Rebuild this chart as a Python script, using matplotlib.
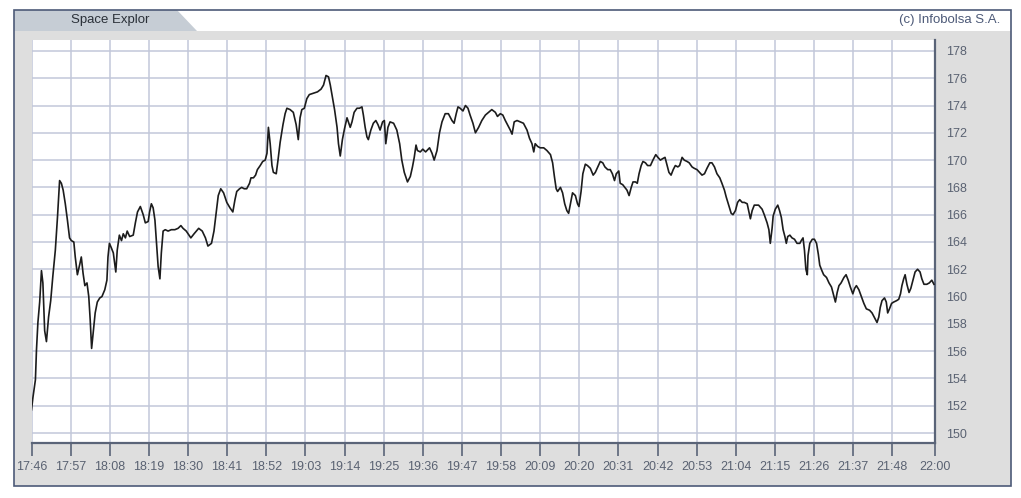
import matplotlib
matplotlib.use("Agg")
import matplotlib.pyplot as plt
from matplotlib.patches import Rectangle, Polygon

# Intraday quote, time in minutes after 17:46
minutes = [
    0.0, 0.4, 1.1, 1.4, 1.8, 2.3, 2.8, 3.2, 3.7, 4.2, 4.8, 5.4, 6.0, 6.7, 7.3, 7.9,
    8.4, 8.9, 9.5, 10.1, 10.7, 11.2, 11.9, 12.3, 12.9, 13.6, 14.0, 14.5, 15.0, 15.6,
    16.1, 16.5, 16.9, 17.4, 17.9, 18.5, 19.2, 19.8, 20.6, 21.2, 21.5, 21.9, 22.4, 23.0,
    23.7, 24.1, 24.7, 25.3, 25.8, 26.4, 26.9, 27.6, 28.6, 29.2, 29.8, 30.6, 31.4, 32.0,
    32.8, 33.2, 33.7, 34.2, 34.7, 35.1, 35.6, 36.1, 36.5, 37.0, 37.6, 38.4, 39.3, 40.3,
    41.2, 42.0, 42.6, 43.5, 44.8, 45.7, 47.0, 48.0, 48.9, 49.6, 50.6, 51.3, 52.0, 52.5,
    53.2, 54.0, 54.9, 55.8, 56.6, 57.2, 57.7, 58.5, 59.1, 59.8, 60.5, 61.3, 61.7, 62.4,
    63.0, 63.5, 64.3, 65.0, 65.7, 66.2, 66.6, 67.1, 67.6, 68.0, 68.8, 69.3, 69.9, 70.7,
    71.3, 71.8, 72.7, 73.6, 74.4, 75.0, 75.5, 76.0, 76.7, 77.4, 78.1, 79.3, 80.4, 81.4,
    82.1, 82.8, 83.5, 84.0, 84.6, 85.2, 85.9, 86.3, 86.8, 87.4, 88.0, 88.7, 89.2, 89.6,
    90.1, 90.7, 91.5, 92.2, 92.9, 93.3, 93.8, 94.3, 94.7, 95.4, 96.1, 96.8, 97.4, 98.0,
    98.7, 99.2, 99.6, 100.2, 100.8, 101.8, 102.7, 103.5, 104.1, 104.8, 105.7, 106.5,
    107.1, 107.6, 108.1, 108.5, 109.3, 110.0, 110.8, 111.9, 112.6, 113.2, 114.0, 114.7,
    115.4, 116.3, 117.2, 118.2, 118.8, 119.4, 119.9, 120.5, 121.3, 122.0, 122.7, 123.3,
    124.1, 124.8, 125.7, 126.6, 127.6, 128.5, 129.4, 130.4, 131.0, 131.8, 132.5, 133.2,
    133.8, 134.6, 135.1, 135.7, 136.5, 137.4, 138.3, 139.3, 140.0, 140.7, 141.2, 141.6,
    142.3, 143.0, 144.0, 144.9, 145.9, 146.5, 147.0, 147.5, 147.9, 148.7, 149.3, 149.9,
    150.5, 151.0, 151.5, 152.1, 152.9, 153.5, 153.9, 154.5, 155.0, 155.7, 156.3, 157.1,
    157.9, 158.5, 159.2, 159.9, 160.6, 161.2, 162.0, 162.7, 163.3, 163.9, 164.4, 165.1,
    165.5, 166.2, 166.8, 167.4, 168.0, 168.6, 169.1, 169.8, 170.3, 170.8, 171.4, 171.9,
    172.6, 173.2, 174.0, 174.7, 175.5, 176.1, 176.8, 177.4, 178.1, 178.7, 179.2, 179.8,
    180.4, 181.0, 181.7, 182.2, 182.9, 183.5, 184.3, 184.9, 185.7, 186.3, 187.1, 187.8,
    188.5, 189.2, 189.9, 190.7, 191.3, 192.0, 192.7, 193.5, 194.1, 194.8, 195.3, 196.0,
    196.7, 197.2, 197.9, 198.5, 199.1, 199.8, 200.4, 201.2, 201.6, 202.1, 202.6, 203.2,
    204.0, 204.4, 205.4, 206.0, 206.8, 207.3, 207.7, 208.2, 208.5, 209.1, 209.8, 210.3,
    210.8, 211.3, 211.8, 212.2, 212.6, 213.2, 213.8, 214.5, 215.2, 216.0, 216.4, 216.9,
    217.3, 217.7, 218.1, 218.3, 218.8, 219.5, 220.1, 220.7, 221.2, 221.6, 222.2, 222.7,
    223.5, 224.2, 224.9, 225.4, 226.0, 226.5, 227.0, 227.6, 228.4, 229.0, 229.6, 230.2,
    230.9, 231.4, 231.9, 232.6, 233.3, 234.0, 234.7, 235.6, 236.3, 236.9, 237.7, 238.2,
    238.6, 239.1, 239.8, 240.3, 240.7, 241.2, 241.8, 242.4, 243.2, 243.8, 244.3, 244.7,
    245.2, 245.6, 246.1, 246.7, 247.2, 247.8, 248.4, 249.1, 249.8, 250.3, 250.9, 251.7,
    252.4, 253.1, 253.7,
]
prices = [
    151.7, 152.6, 153.9, 156.1, 158.1, 159.6, 161.9, 161.0, 157.5, 156.7, 158.5, 159.7,
    161.5, 163.4, 165.8, 168.5, 168.3, 167.8, 166.8, 165.6, 164.3, 164.1, 164.0, 162.9,
    161.6, 162.4, 162.9, 161.7, 160.8, 161.0, 160.0, 158.3, 156.2, 157.5, 158.8, 159.6,
    159.9, 160.0, 160.5, 161.2, 162.9, 163.9, 163.6, 163.2, 161.8, 163.4, 164.5, 164.1,
    164.6, 164.3, 164.8, 164.4, 164.5, 165.4, 166.2, 166.6, 166.0, 165.4, 165.5, 166.2,
    166.8, 166.5, 165.6, 164.1, 162.2, 161.3, 163.2, 164.8, 164.9, 164.8, 164.9, 164.9,
    165.0, 165.2, 165.0, 164.8, 164.3, 164.6, 165.0, 164.8, 164.3, 163.7, 163.9, 164.8,
    166.3, 167.4,
    167.9, 167.6, 166.9, 166.5, 166.2, 167.1, 167.7, 167.9, 168.0, 167.9, 167.9, 168.3,
    168.7, 168.7, 168.9, 169.3, 169.6, 169.9, 170.0, 170.5, 172.4, 171.2, 169.6, 169.1,
    169.0, 170.0, 171.3, 172.6, 173.4, 173.8, 173.7, 173.5, 172.6, 171.5, 173.1, 173.7,
    173.8, 174.5, 174.8, 174.9, 175.0, 175.2, 175.5, 176.2, 176.1, 175.5, 174.6, 173.7,
    172.4, 171.2, 170.3, 171.5, 172.3, 173.1, 172.7, 172.4, 172.8, 173.5, 173.8, 173.8,
    173.9, 173.3, 172.4, 171.7, 171.5, 172.2, 172.7, 172.9, 172.6, 172.2, 172.8, 172.9,
    171.2, 172.4, 172.8, 172.7, 172.2, 171.2,
    170.0, 169.1, 168.4, 168.8, 169.5, 170.2, 171.1, 170.7, 170.6, 170.8, 170.6, 170.9,
    170.5, 170.0, 170.7, 172.0, 172.8, 173.4, 173.4, 172.9, 172.7, 173.4, 173.9, 173.8,
    173.6, 174.0, 173.8, 173.3, 172.7, 172.0, 172.4, 172.9, 173.3, 173.5, 173.7, 173.5,
    173.2, 173.4, 173.3, 172.9, 172.6, 172.2, 171.9, 172.8, 172.9, 172.8, 172.7, 172.2,
    171.6, 171.2, 170.6, 171.2, 171.0, 170.9, 170.9, 170.7, 170.4, 169.8, 168.8, 167.9,
    167.7, 168.0, 167.6, 166.8, 166.3, 166.1, 166.8, 167.6, 167.4, 166.8, 166.6, 167.7,
    169.0, 169.7, 169.6, 169.4, 168.9, 169.1, 169.5, 169.9, 169.8, 169.5, 169.3, 169.3,
    169.0, 168.5, 169.0, 169.2, 168.3, 168.2, 168.0, 167.8, 167.4, 168.0, 168.4, 168.4,
    168.3, 169.0, 169.6, 169.9, 169.8, 169.6, 169.6, 170.0, 170.4, 170.2, 170.0, 170.1,
    170.2, 169.6, 169.1, 168.9, 169.3, 169.6, 169.5, 169.6, 170.2, 170.0, 169.9, 169.8,
    169.5, 169.4, 169.3, 169.1, 168.9, 169.0, 169.4, 169.8, 169.8, 169.5, 169.0, 168.7,
    168.3, 167.8, 167.3, 166.7, 166.1, 166.0, 166.3, 166.9, 167.1, 166.9, 166.9, 166.8,
    166.3, 165.7, 166.3, 166.7, 166.7,
    166.7, 166.4, 166.0, 165.4, 164.9, 163.9, 165.0, 165.9, 166.4, 166.7, 166.3, 165.8,
    164.9, 164.4, 163.9, 164.4, 164.5, 164.3, 164.2, 163.9, 163.9, 164.1, 164.3, 163.4,
    162.0, 161.6, 163.0, 163.9, 164.2, 164.2, 163.9, 163.1, 162.3, 161.9, 161.6, 161.4,
    161.0, 160.7, 160.2, 159.6, 160.3, 160.8, 161.0, 161.4, 161.6, 161.2, 160.7, 160.2,
    160.6, 160.8, 160.5, 160.0, 159.5, 159.1, 159.0, 158.8, 158.5, 158.1, 158.5, 159.2,
    159.7, 159.9, 159.6, 158.8, 159.1, 159.5, 159.6, 159.7, 159.8, 160.2, 160.8, 161.3,
    161.6, 160.9, 160.3, 160.6, 161.2, 161.8, 162.0, 161.8, 161.3, 160.9, 160.9, 161.0,
    161.2, 160.9,
]

tick_labels = ["17:46", "17:57", "18:08", "18:19", "18:30", "18:41", "18:52", "19:03",
               "19:14", "19:25", "19:36", "19:47", "19:58", "20:09", "20:20", "20:31",
               "20:42", "20:53", "21:04", "21:15", "21:26", "21:37", "21:48", "22:00"]
y_ticks = list(range(150, 179, 2))
title = "Space Explor"
credit = "(c) Infobolsa S.A."

W, H = 1021, 498
plt.rcParams['font.family'] = ['Liberation Sans', 'DejaVu Sans']

def to_min(s):
    h, m = s.split(":")
    return int(h) * 60 + int(m) - (17 * 60 + 46)

def fx(px):
    return px / W

def fy(py):
    return 1 - py / H

fig = plt.figure(figsize=(W / 100, H / 100), dpi=100)
fig.patch.set_facecolor("white")

# panel background, header strip and tab (kept behind the axes)
fig.add_artist(Rectangle((fx(14), fy(486)), fx(1011) - fx(14), fy(10) - fy(486),
                         transform=fig.transFigure, facecolor="#dedede", edgecolor="none", zorder=-10))
fig.add_artist(Rectangle((fx(14), fy(31)), fx(1011) - fx(14), fy(10) - fy(31),
                         transform=fig.transFigure, facecolor="white", edgecolor="none", zorder=-9))
fig.add_artist(Polygon([(fx(14), fy(10)), (fx(177), fy(10)), (fx(197), fy(31)), (fx(14), fy(31))],
                       closed=True, transform=fig.transFigure, facecolor="#c6cdd5",
                       edgecolor="none", zorder=-8))
fig.add_artist(Rectangle((fx(14), fy(486)), fx(1011) - fx(14), fy(10) - fy(486),
                         transform=fig.transFigure, facecolor="none", edgecolor="#4d5a78",
                         lw=1.2, zorder=10))
fig.text(fx(110), fy(20), title, ha="center", va="center", fontsize=9.5, color="#2a3038")
fig.text(fx(1000), fy(20), credit, ha="right", va="center", fontsize=9.5, color="#4d5a78")

ax = fig.add_axes([fx(31.5), fy(443), fx(935) - fx(31.5), fy(40) - fy(443)])
ax.set_zorder(2)
ax.set_facecolor("white")
ax.plot(minutes, prices, color="#1c1c1c", lw=1.2, zorder=3)

ax.set_xlim(0, 254)
ax.set_ylim(149.27, 178.8)
ax.set_xticks([to_min(s) for s in tick_labels])
ax.set_xticklabels(tick_labels)
ax.set_yticks(y_ticks)
ax.yaxis.tick_right()
ax.grid(True, color="#c2c8da", lw=1.1)
ax.set_axisbelow(True)

for side in ["left", "top"]:
    ax.spines[side].set_visible(False)
for side in ["bottom", "right"]:
    ax.spines[side].set_color("#5a6478")
    ax.spines[side].set_linewidth(1.6)

ax.tick_params(axis="x", direction="out", length=9, width=1.2, color="#5a6478",
               pad=4, labelsize=9, labelcolor="#5a6272")
ax.tick_params(axis="y", length=0, pad=8, labelsize=9, labelcolor="#5a6272")

fig.savefig("out.png", dpi=100)
